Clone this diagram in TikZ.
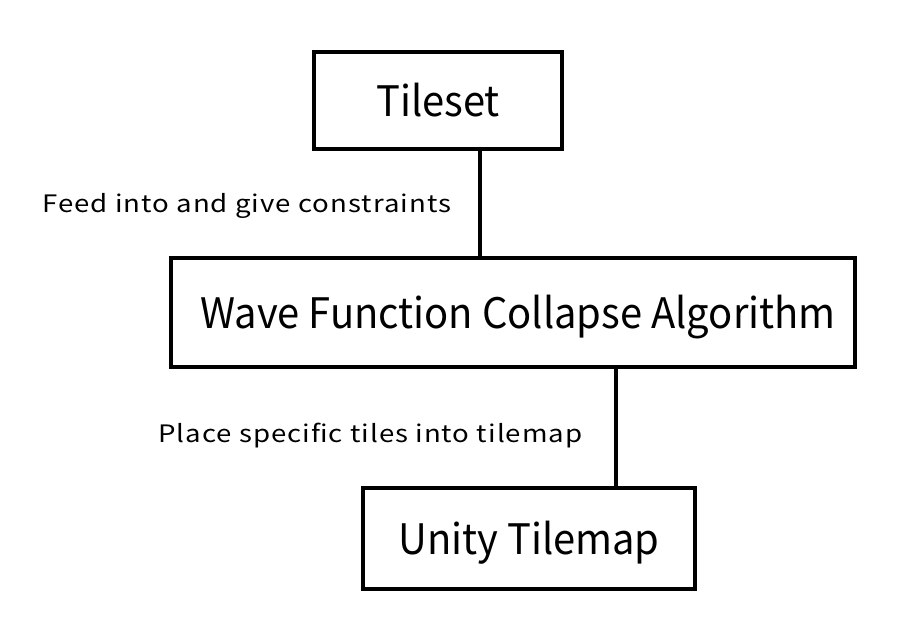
\documentclass[tikz,border=0pt]{standalone}
\usepackage{fontspec}
\newfontfamily\jpfont[FakeStretch=0.95]{Noto Sans CJK JP}
\newfontfamily\lblfont[FakeStretch=1.15,LetterSpace=4.3]{Noto Sans CJK JP}
\begin{document}
\begin{tikzpicture}[x=1pt,y=-1pt,
  box/.style={draw=black, line width=3.2pt, inner sep=0pt, text height=31pt, text depth=0pt,
    font=\jpfont\fontsize{42}{48}\selectfont},
  lbl/.style={font=\lblfont\fontsize{24}{28}\selectfont, inner sep=0pt, anchor=base west},
  link/.style={draw=black, line width=3.2pt}]
\useasboundingbox[fill=white] (0,0) rectangle (900,640);
\node[box, minimum width=248pt, minimum height=97pt] (tileset) at (438,100.5) {Tileset};
\node[box, minimum width=684pt, minimum height=109pt] (wfc) at (513,312.5) {\hspace*{10pt}Wave Function Collapse Algorithm};
\node[box, minimum width=332pt, minimum height=101pt] (unity) at (529,538.5) {Unity Tilemap};
\coordinate (l1) at (480,0);
\coordinate (l2) at (616,0);
\draw[link] (tileset.south -| l1) -- (wfc.north -| l1);
\draw[link] (wfc.south -| l2) -- (unity.north -| l2);
\node[lbl] (lab1) at (42,212) {Feed into and give constraints};
\node[lbl] (lab2) at (158,442) {Place specific tiles into tilemap};
\end{tikzpicture}
\end{document}
